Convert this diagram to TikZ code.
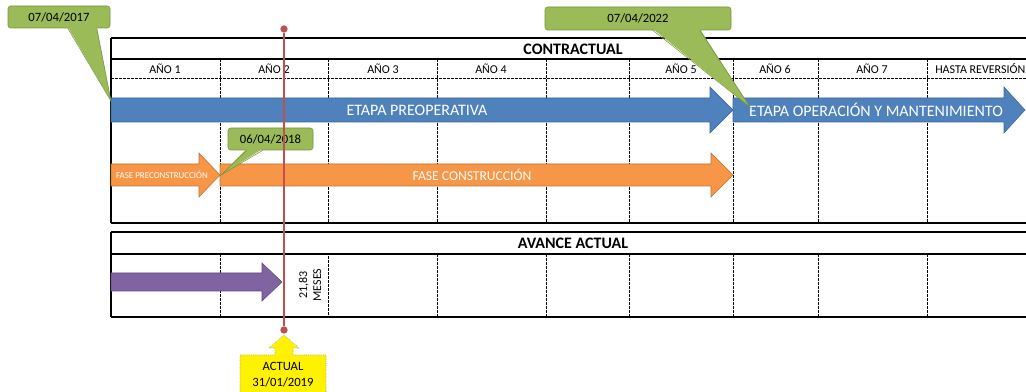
\documentclass[tikz,border=0pt]{standalone}
\usepackage{fontspec}
\setmainfont{Carlito}
\usetikzlibrary{calc}
\definecolor{barblue}{HTML}{4F81BD}
\definecolor{barblueline}{HTML}{3A669A}
\definecolor{barorange}{HTML}{F79646}
\definecolor{barorangeline}{HTML}{C0722F}
\definecolor{barpurple}{HTML}{8064A2}
\definecolor{barpurpleline}{HTML}{5E4A7A}
\definecolor{calloutgreen}{HTML}{9BBB59}
\definecolor{calloutline}{HTML}{76923C}
\definecolor{todayred}{HTML}{C0504D}

\begin{document}
\begin{tikzpicture}[x=0.75pt,y=-0.75pt,
    frame/.style={line width=1.5pt},
    grid/.style={line width=0.6pt,dash pattern=on 2pt off 1pt},
    yr/.style={font=\fontsize{9}{10}\selectfont},
    title/.style={font=\bfseries\fontsize{12}{14}\selectfont},
    bartext/.style={text=white,font=\fontsize{12}{14}\selectfont},
    callout/.style={draw=calloutline,fill=calloutgreen,rounded corners=2pt,
        inner sep=0pt,font=\fontsize{9.5}{11}\selectfont}]
\useasboundingbox (0,0) rectangle (1026,392);

% tabla contractual
\draw[frame] (111,38) -- (1026,38) (111,59) -- (1026,59) (111,223) -- (1026,223) (111,38) -- (111,223);
\draw[grid] (111,78) -- (1026,78)
    (220,59) -- (220,223) (328,59) -- (328,223) (437,59) -- (437,223)
    (546,59) -- (546,223) (629,59) -- (629,223) (733,59) -- (733,223)
    (818,59) -- (818,223) (927,59) -- (927,223);
\node[title] (contr) at (573,49) {CONTRACTUAL};
\node[yr] (y1) at (165,69) {AÑO 1};
\node[yr] (y2) at (274,69) {AÑO 2};
\node[yr] (y3) at (383,69) {AÑO 3};
\node[yr] (y4) at (491,69) {AÑO 4};
\node[yr] (y5) at (681,69) {AÑO 5};
\node[yr] (y6) at (775,69) {AÑO 6};
\node[yr] (y7) at (872,69) {AÑO 7};
\node[yr,anchor=west,inner sep=0pt] (rev) at (935,69) {HASTA REVERSIÓN};

% tabla avance
\draw[frame] (111,232) -- (1026,232) (111,254) -- (1026,254) (111,317) -- (1026,317) (111,232) -- (111,317);
\draw[grid] (220,254) -- (220,317) (328,256) -- (328,317) (437,254) -- (437,317)
    (546,254) -- (546,317) (629,254) -- (629,317) (733,254) -- (733,317)
    (818,254) -- (818,317) (927,254) -- (927,317);
\node[title] (avance) at (573,243) {AVANCE ACTUAL};

% barras
\draw[fill=barblue,draw=barblueline] (111,98) -- (710,98) -- (710,87) -- (733,110) -- (710,133) -- (710,122) -- (111,122) -- cycle;
\node[bartext] (preop) at (417,110) {ETAPA PREOPERATIVA};
\draw[fill=barblue,draw=barblueline] (733,98) -- (1004,98) -- (1004,87) -- (1025,110) -- (1004,133) -- (1004,122) -- (733,122) -- cycle;
\node[bartext] (oper) at (876,110) {ETAPA OPERACIÓN Y MANTENIMIENTO};
\draw[fill=barorange,draw=barorangeline] (111,164) -- (199,164) -- (199,153) -- (220,175) -- (199,197) -- (199,186) -- (111,186) -- cycle;
\node[text=white,font=\fontsize{6.7}{8}\selectfont] (fpre) at (162,175) {FASE PRECONSTRUCCIÓN};
\draw[fill=barorange,draw=barorangeline] (220,164) -- (711,164) -- (711,153) -- (733,175) -- (711,197) -- (711,186) -- (220,186) -- cycle;
\node[text=white,font=\fontsize{10.2}{12}\selectfont] (fcons) at (472,175) {FASE CONSTRUCCIÓN};
\draw[fill=barpurple,draw=barpurpleline] (111,273) -- (262,273) -- (262,263) -- (282,282) -- (262,301) -- (262,291) -- (111,291) -- cycle;
\node[rotate=90,align=center,font=\fontsize{9}{10.5}\selectfont] (meses) at (310,285) {21,83\\MESES};

% llamadas de fecha
\node[callout,minimum width=76.5pt,minimum height=16.5pt] (d17) at (59,17) {07/04/2017};
\coordinate (t17) at (111,101);
\fill[calloutgreen] ($(d17.south west)+(60,-1.5)$) -- (t17) -- ($(d17.south west)+(89,-1.5)$) -- cycle;
\draw[calloutline] ($(d17.south west)+(60,0)$) -- (t17) -- ($(d17.south west)+(89,0)$);

\node[callout,minimum width=139.5pt,minimum height=17.25pt] (d22) at (638,18.5) {07/04/2022};
\coordinate (t22) at (750,107);
\fill[calloutgreen] ($(d22.south west)+(108,-1.5)$) -- (t22) -- ($(d22.south west)+(155,-1.5)$) -- cycle;
\draw[calloutline] ($(d22.south west)+(108,0)$) -- (t22) -- ($(d22.south west)+(155,0)$);

\node[callout,minimum width=63.75pt,minimum height=16.5pt] (d18) at (270.5,139) {06/04/2018};
\coordinate (t18) at (221,175);
\fill[calloutgreen] ($(d18.south west)+(19,-1.5)$) -- (t18) -- ($(d18.south west)+(35,-1.5)$) -- cycle;
\draw[calloutline] ($(d18.south west)+(19,0)$) -- (t18) -- ($(d18.south west)+(35,0)$);

% fecha actual
\node[circle,fill=todayred,inner sep=0pt,minimum size=5.5pt] (hoyA) at (284,29) {};
\node[circle,fill=todayred,inner sep=0pt,minimum size=5.5pt] (hoyB) at (284,330) {};
\draw[todayred,line width=1.5pt] (hoyA) -- (hoyB);
\draw[fill=yellow,draw=black!45,densely dotted] (240,396) -- (240,355) -- (275,355) -- (275,348) -- (269,348) -- (284,335)
    -- (299,348) -- (293,348) -- (293,355) -- (326,355) -- (326,396);
\node[align=center,font=\fontsize{9.5}{12}\selectfont] (actual) at (283,375) {ACTUAL\\31/01/2019};
\end{tikzpicture}
\end{document}
